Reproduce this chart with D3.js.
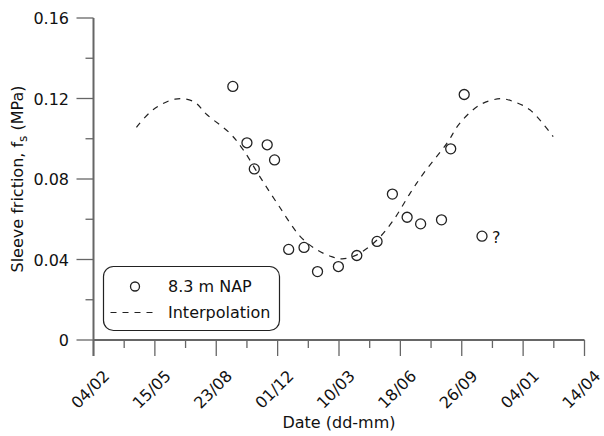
<!DOCTYPE html>
<html>
<head>
<meta charset="utf-8">
<script src="https://d3js.org/d3.v7.min.js"></script>
<style>
    body { margin: 0; background: #fff; }
    text { font-family: "DejaVu Sans", Verdana, sans-serif; fill: #111; }
</style>
</head>
<body>
<div id="chart-area"></div>
<script>
// days counted from 04/02
var tickLabels = ["04/02", "15/05", "23/08", "01/12", "10/03", "18/06", "26/09", "04/01", "14/04"];
var yTickLabels = ["0", "0.04", "0.08", "0.12", "0.16"];

var pointDays = [227, 250, 262, 283, 295, 318, 343, 365, 399, 429, 462, 487, 511, 533, 567, 582, 604, 633];
var pointFs = [0.126, 0.098, 0.085, 0.097, 0.0895, 0.045, 0.046, 0.034, 0.0365, 0.042, 0.049, 0.0725,
    0.061, 0.0577, 0.0597, 0.095, 0.122, 0.0516];

var curveDays = [70, 97, 133, 163, 185, 222, 244, 271, 301, 337, 364, 388, 405, 429, 462, 489, 516, 538, 576, 597, 630, 663, 684, 711, 749];
var curveFs = [0.1057, 0.1144, 0.1197, 0.1185, 0.1119, 0.1028, 0.0945, 0.0812, 0.0671, 0.0514, 0.0448, 0.0414,
    0.0403, 0.0423, 0.0497, 0.0597, 0.073, 0.0829, 0.0978, 0.1078, 0.1169, 0.1199, 0.1185, 0.1144, 0.1011];

var width = 604, height = 436;
var axisColor = "#666";

var svg = d3.select("#chart-area").append("svg")
    .attr("width", width)
    .attr("height", height);

var x = d3.scaleLinear().domain([0, 800]).range([93.5, 584.5]);
var y = d3.scaleLinear().domain([0, 0.16]).range([340, 18]);

// x axis: major ticks every 100 days, minor in between
var xMajor = d3.range(0, 801, 100);
var xMinor = d3.range(50, 800, 100);

svg.append("line")
    .attr("x1", x(0)).attr("x2", x(800))
    .attr("y1", y(0)).attr("y2", y(0))
    .attr("stroke", axisColor).attr("stroke-width", 2);

svg.selectAll(".xmajor").data(xMajor).enter().append("line")
    .attr("x1", function(d) { return x(d); })
    .attr("x2", function(d) { return x(d); })
    .attr("y1", y(0)).attr("y2", y(0) + 16)
    .attr("stroke", axisColor).attr("stroke-width", 1.3);

svg.selectAll(".xminor").data(xMinor).enter().append("line")
    .attr("x1", function(d) { return x(d); })
    .attr("x2", function(d) { return x(d); })
    .attr("y1", y(0)).attr("y2", y(0) + 8)
    .attr("stroke", axisColor).attr("stroke-width", 1.3);

svg.selectAll(".xlabel").data(xMajor).enter().append("text")
    .attr("transform", function(d) { return "translate(" + (x(d) + 17) + "," + 377 + ") rotate(-45)"; })
    .attr("text-anchor", "end")
    .attr("font-size", 16)
    .text(function(d, i) { return tickLabels[i]; });

// y axis
var yMajor = d3.range(0, 0.161, 0.04);
var yMinor = d3.range(0.02, 0.16, 0.04);

svg.append("line")
    .attr("x1", x(0)).attr("x2", x(0))
    .attr("y1", y(0.16)).attr("y2", y(0) + 16)
    .attr("stroke", axisColor).attr("stroke-width", 2);

svg.selectAll(".ymajor").data(yMajor).enter().append("line")
    .attr("x1", x(0) - 17).attr("x2", x(0))
    .attr("y1", function(d) { return y(d); })
    .attr("y2", function(d) { return y(d); })
    .attr("stroke", axisColor).attr("stroke-width", 1.3);

svg.selectAll(".yminor").data(yMinor).enter().append("line")
    .attr("x1", x(0) - 8).attr("x2", x(0))
    .attr("y1", function(d) { return y(d); })
    .attr("y2", function(d) { return y(d); })
    .attr("stroke", axisColor).attr("stroke-width", 1.3);

svg.selectAll(".ylabel").data(yMajor).enter().append("text")
    .attr("x", 69)
    .attr("y", function(d) { return y(d) + 6; })
    .attr("text-anchor", "end")
    .attr("font-size", 16)
    .text(function(d, i) { return yTickLabels[i]; });

// axis titles
svg.append("text")
    .attr("x", 339).attr("y", 428)
    .attr("text-anchor", "middle")
    .attr("font-size", 16)
    .text("Date (dd-mm)");

var ytitle = svg.append("text")
    .attr("transform", "translate(23," + 179 + ") rotate(-90)")
    .attr("text-anchor", "middle")
    .attr("font-size", 16);
ytitle.append("tspan").text("Sleeve friction, f");
ytitle.append("tspan").attr("font-size", 12).attr("dy", 4).text("s");
ytitle.append("tspan").attr("dy", -4).text(" (MPa)");

// interpolation curve
var line = d3.line()
    .x(function(d) { return x(d); })
    .y(function(d, i) { return y(curveFs[i]); })
    .curve(d3.curveCatmullRom);

svg.append("path")
    .attr("d", line(curveDays))
    .attr("fill", "none")
    .attr("stroke", "#222")
    .attr("stroke-width", 1.2)
    .attr("stroke-dasharray", "6,6");

// measured points
svg.selectAll(".pt").data(pointDays).enter().append("circle")
    .attr("cx", function(d) { return x(d); })
    .attr("cy", function(d, i) { return y(pointFs[i]); })
    .attr("r", 5)
    .attr("fill", "none")
    .attr("stroke", "#222")
    .attr("stroke-width", 1.3);

var last = pointDays.length - 1;
svg.append("text")
    .attr("x", x(pointDays[last]) + 10)
    .attr("y", y(pointFs[last]) + 7)
    .attr("font-size", 16)
    .text("?");

// legend
var legend = svg.append("g");
legend.append("rect")
    .attr("x", 103.5).attr("y", 266.5)
    .attr("width", 176).attr("height", 64)
    .attr("rx", 10)
    .attr("fill", "#fff")
    .attr("stroke", "#222")
    .attr("stroke-width", 1.2);
legend.append("circle")
    .attr("cx", 135).attr("cy", 286.5).attr("r", 4.5)
    .attr("fill", "none").attr("stroke", "#222").attr("stroke-width", 1.3);
legend.append("text")
    .attr("x", 168).attr("y", 292)
    .attr("font-size", 16)
    .text("8.3 m NAP");
legend.append("line")
    .attr("x1", 110.5).attr("x2", 154)
    .attr("y1", 312.5).attr("y2", 312.5)
    .attr("stroke", "#222").attr("stroke-width", 1.2)
    .attr("stroke-dasharray", "6,6");
legend.append("text")
    .attr("x", 168).attr("y", 318)
    .attr("font-size", 16)
    .text("Interpolation");
</script>
</body>
</html>
